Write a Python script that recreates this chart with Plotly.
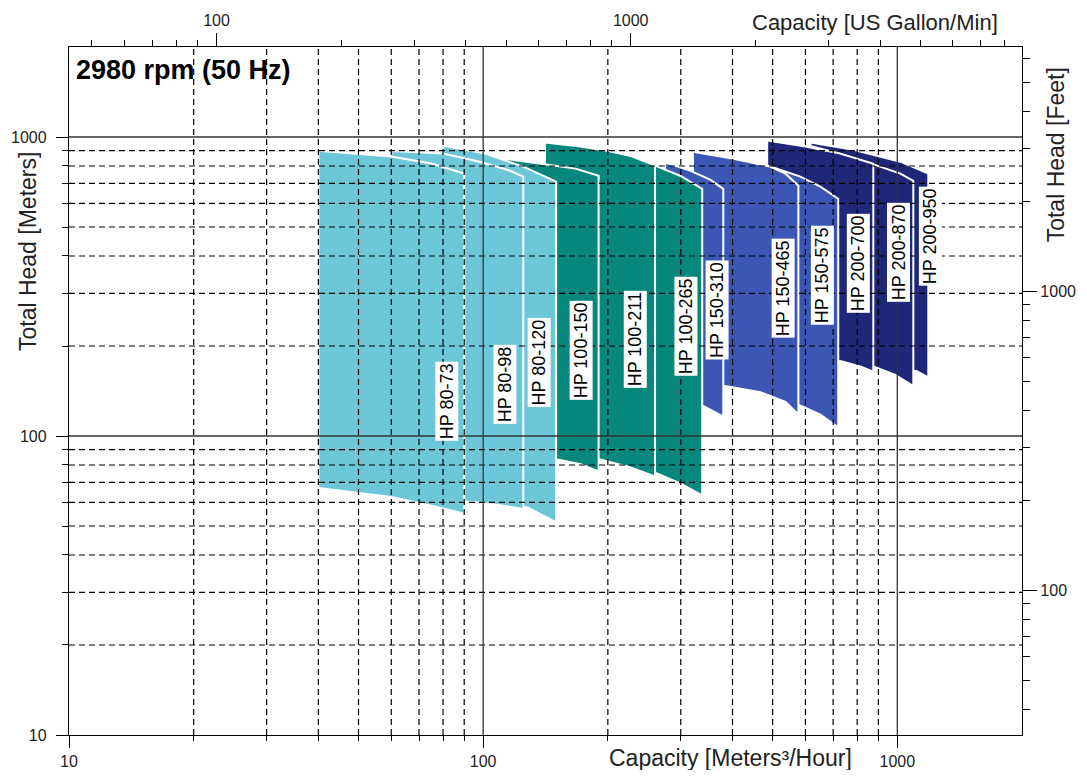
import math
import plotly.graph_objects as go

# ---------------- data ----------------
PUMPS = ["HP 80-73", "HP 80-98", "HP 80-120",
         "HP 100-150", "HP 100-211", "HP 100-265",
         "HP 150-310", "HP 150-465", "HP 150-575",
         "HP 200-700", "HP 200-870", "HP 200-950"]
FAMILY = [80, 80, 80, 100, 100, 100, 150, 150, 150, 200, 200, 200]

# upper boundary (max-stage curve): capacity m3/h and head m
TOP_Q = [
    [40, 60, 75, 90],
    [60, 80, 98, 116, 125],
    [80, 101, 125, 150],
    [113, 137, 167, 190],
    [141, 172, 199, 226, 260],
    [192, 226, 260, 299, 338],
    [275, 316, 353, 380],
    [321, 402, 493, 537, 577],
    [480, 583, 652, 720],
    [485, 600, 728, 875],
    [600, 728, 894, 1017, 1093],
    [617, 783, 1017, 1188],
]
TOP_H = [
    [900, 860, 815, 755],
    [897, 880, 827, 772, 737],
    [936, 880, 796, 709],
    [846, 814, 784, 742],
    [958, 929, 900, 866, 802],
    [880, 846, 802, 742, 671],
    [821, 772, 720, 671],
    [893, 846, 796, 754, 687],
    [808, 737, 682, 622],
    [973, 929, 880, 814],
    [943, 880, 802, 754, 714],
    [958, 907, 827, 754],
]
# lower boundary (min-stage curve)
BOT_Q = [
    [40, 60, 75, 90],
    [60, 90, 107, 125],
    [80, 110, 128, 150],
    [113, 151, 172, 190],
    [141, 192, 226, 260],
    [192, 263, 299, 338],
    [275, 340, 380],
    [321, 384, 467, 537, 577],
    [480, 586, 652, 720],
    [485, 600, 732, 814, 875],
    [600, 885, 989, 1093],
    [617, 1111, 1188],
]
BOT_H = [
    [67, 62.5, 58.5, 55],
    [63, 60.5, 59, 57],
    [61.5, 60, 57.7, 51.4],
    [86.8, 83.5, 80.4, 76.1],
    [86, 83.5, 78.6, 73.3],
    [84, 75, 69.4, 63.3],
    [133, 126, 116],
    [149, 147, 140, 130, 118],
    [140, 126, 118, 107],
    [184, 181, 178, 171, 164],
    [185, 170, 160, 147],
    [180, 165, 157],
]
# label anchor (capacity, head)
LABEL_Q = [81.8, 113, 136.6, 172.5, 233, 309, 367, 530, 659, 805, 1006, 1201]
LABEL_H = [130.7, 149, 176.6, 193.8, 211, 233, 264, 312.6, 345.7, 379, 412.8, 467]

# axes
Q_RANGE = [10, 2000]
H_RANGE = [10, 2000]
X_MAJOR = [10, 100, 1000]
X_MINOR = [20, 30, 40, 50, 60, 70, 80, 90, 200, 300, 400, 500, 600, 700, 800, 900]
Y_MAJOR = [10, 100, 1000]
Y_MINOR = [20, 30, 40, 50, 60, 70, 80, 90, 200, 300, 400, 500, 600, 700, 800, 900]
GPM_MAJOR = [100, 1000]
GPM_MINOR = [50, 60, 70, 80, 90, 200, 300, 400, 500, 600, 700, 800, 900,
             2000, 3000, 4000, 5000, 6000, 7000, 8000]
FT_MAJOR = [100, 1000]
FT_MINOR = [40, 50, 60, 70, 80, 90, 200, 300, 400, 500, 600, 700, 800, 900,
            2000, 3000, 4000, 5000, 6000]
M3H_TO_GPM = 4.402868
M_TO_FT = 3.28084

# ---------------- styles ----------------
FAMILY_COLORS = {80: "#6CC7D9", 100: "#08877C", 150: "#3B57B3", 200: "#1F2878"}
FONT = "Arial, Liberation Sans, sans-serif"
TXT = "#222222"

fig = go.Figure()

# pump regions: rightmost drawn first, so left ones lie on top
for i in reversed(range(len(PUMPS))):
    xs = list(TOP_Q[i]) + list(reversed(BOT_Q[i])) + [TOP_Q[i][0]]
    ys = list(TOP_H[i]) + list(reversed(BOT_H[i])) + [TOP_H[i][0]]
    fig.add_trace(go.Scatter(
        x=xs, y=ys, mode="lines", fill="toself",
        fillcolor=FAMILY_COLORS[FAMILY[i]],
        line=dict(color="white", width=2),
        name=PUMPS[i], showlegend=False, hoverinfo="name"))

# grid lines drawn above the regions
def vlines(vals):
    xs, ys = [], []
    for v in vals:
        xs += [v, v, None]
        ys += [H_RANGE[0], H_RANGE[1], None]
    return xs, ys

def hlines(vals):
    xs, ys = [], []
    for v in vals:
        xs += [Q_RANGE[0], Q_RANGE[1], None]
        ys += [v, v, None]
    return xs, ys

dash_style = dict(color="black", width=1.2, dash="6px,4px")
solid_style = dict(color="#333333", width=1.3)
for xs, ys, st in [
    (*vlines(X_MINOR), dash_style),
    (*hlines(Y_MINOR), dash_style),
    (*vlines([v for v in X_MAJOR if v > Q_RANGE[0]]), solid_style),
    (*hlines([v for v in Y_MAJOR if v > H_RANGE[0]]), solid_style),
]:
    fig.add_trace(go.Scatter(x=xs, y=ys, mode="lines", line=st,
                             showlegend=False, hoverinfo="skip"))

# dummy traces for secondary axes
fig.add_trace(go.Scatter(x=[Q_RANGE[0] * M3H_TO_GPM], y=[H_RANGE[0]], xaxis="x2", yaxis="y",
                         mode="markers", marker=dict(opacity=0), showlegend=False, hoverinfo="skip"))
fig.add_trace(go.Scatter(x=[Q_RANGE[0]], y=[H_RANGE[0] * M_TO_FT], xaxis="x", yaxis="y2",
                         mode="markers", marker=dict(opacity=0), showlegend=False, hoverinfo="skip"))

# pump labels
annotations = []
for name, q, h in zip(PUMPS, LABEL_Q, LABEL_H):
    annotations.append(dict(
        x=math.log10(q), y=math.log10(h), xref="x", yref="y",
        text=name, showarrow=False, textangle=-90,
        font=dict(family=FONT, size=18, color="black"),
        bgcolor="white", borderpad=1))

# titles
title_font = dict(family=FONT, size=23, color=TXT)
annotations += [
    dict(text="Capacity [Meters³/Hour]", xref="paper", yref="paper", x=0.694, y=-0.034,
         xanchor="center", yanchor="middle", showarrow=False, font=title_font),
    dict(text="Capacity [US Gallon/Min]", xref="paper", yref="paper", x=0.846, y=1.035,
         xanchor="center", yanchor="middle", showarrow=False,
         font=dict(family=FONT, size=22, color=TXT)),
    dict(text="Total Head [Meters]", xref="paper", yref="paper", x=-0.043, y=0.702,
         xanchor="center", yanchor="middle", showarrow=False, textangle=-90, font=title_font),
    dict(text="Total Head [Feet]", xref="paper", yref="paper", x=1.036, y=0.843,
         xanchor="center", yanchor="middle", showarrow=False, textangle=-90, font=title_font),
    dict(text="<b>2980 rpm (50 Hz)</b>", xref="paper", yref="paper", x=0.005, y=0.967,
         xanchor="left", yanchor="middle", showarrow=False,
         font=dict(family=FONT, size=27, color="black")),
]

tickfont = dict(family=FONT, size=16, color=TXT)

def axis(rng, major, minor, major_len, minor_len, **kw):
    d = dict(type="log", range=[math.log10(rng[0]), math.log10(rng[1])], autorange=False,
             tickmode="array", tickvals=major, ticktext=[str(v) for v in major],
             ticks="outside", ticklen=major_len, tickwidth=1.2, tickcolor="black",
             minor=dict(tickmode="array", tickvals=minor, ticks="outside",
                        ticklen=minor_len, tickwidth=1.2, tickcolor="black", showgrid=False),
             showgrid=False, zeroline=False, showline=True, linecolor="black", linewidth=1.3,
             tickfont=tickfont, fixedrange=True, automargin=False)
    d.update(kw)
    return d

# page body adds an 8 px margin, so the figure is sized to fit inside the window
fig.update_layout(
    width=1071, height=762,
    margin=dict(l=61, r=57, t=39, b=35),
    paper_bgcolor="white", plot_bgcolor="white",
    showlegend=False,
    xaxis=axis(Q_RANGE, X_MAJOR, X_MINOR, 12, 5, domain=[0, 1], anchor="y"),
    yaxis=axis(H_RANGE, Y_MAJOR, Y_MINOR, 12, 6, domain=[0, 1], anchor="x",
               ticklabelstandoff=6),
    xaxis2=axis([Q_RANGE[0] * M3H_TO_GPM, Q_RANGE[1] * M3H_TO_GPM], GPM_MAJOR, GPM_MINOR,
                13, 6, overlaying="x", side="top", anchor="y"),
    yaxis2=axis([H_RANGE[0] * M_TO_FT, H_RANGE[1] * M_TO_FT], FT_MAJOR, FT_MINOR,
                14, 7, overlaying="y", side="right", anchor="x"),
    annotations=annotations,
)

fig.write_html("out.html")
